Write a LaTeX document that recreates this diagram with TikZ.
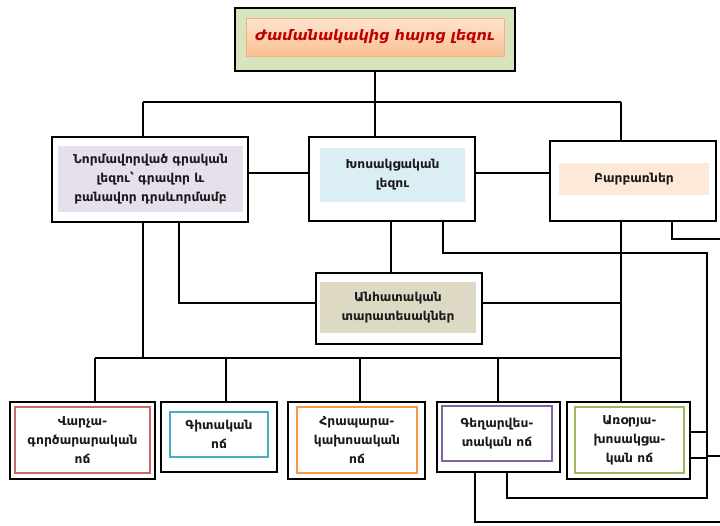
\documentclass[tikz,border=0pt]{standalone}
\usepackage{fontspec}
\setmainfont{DejaVu Sans}
\usetikzlibrary{calc}
\definecolor{topgreen}{HTML}{D7E4BD}
\definecolor{orlight}{HTML}{FDE4D0}
\definecolor{ordark}{HTML}{FAC090}
\definecolor{ordraw}{HTML}{F4B183}
\definecolor{titlered}{HTML}{C00000}
\definecolor{lav}{HTML}{E5E0EC}
\definecolor{lblue}{HTML}{DBEEF4}
\definecolor{peach}{HTML}{FDE9D9}
\definecolor{khaki}{HTML}{DDD9C4}
\definecolor{cred}{HTML}{C0504D}
\definecolor{cblue}{HTML}{4BACC6}
\definecolor{corange}{HTML}{F79646}
\definecolor{cpurple}{HTML}{8064A2}
\definecolor{cgreen}{HTML}{9BBB59}
\definecolor{txt}{HTML}{1A1A1A}
\tikzset{
  outerbox/.style={draw=black, line width=1.6pt, fill=white, inner sep=0pt},
  innerbox/.style={inner sep=0pt, align=center, text=txt, font=\fontsize{12.3}{19}\selectfont\bfseries},
  conn/.style={line width=1.6pt, black},
}
\begin{document}
\begin{tikzpicture}[x=1pt,y=-1pt]
\useasboundingbox (0,0) rectangle (720,525);
\coordinate (jL) at (143,102);
\coordinate (jR) at (621,102);
\coordinate (jM) at (375,102);
\coordinate (bus1) at (95,358);
\coordinate (bus5) at (621,358);
\coordinate (r1) at (707,253);
\coordinate (r2) at (707,498);
\coordinate (e1) at (720,239);
\coordinate (e2) at (720,456);
\coordinate (e3) at (720,522);

% top box
\node[outerbox, fill=topgreen, line width=2.2pt, minimum width=280pt, minimum height=63pt] (top) at (375,39.5) {};
\node[inner sep=0pt, top color=orlight, bottom color=ordark, draw=ordraw, line width=0.8pt,
      minimum width=258pt, minimum height=38pt, text=titlered,
      font=\fontsize{14.5}{17}\selectfont\bfseries\itshape] (title) at (375,37) {Ժամանակակից հայոց լեզու};

% second row
\node[outerbox, minimum width=196pt, minimum height=85pt] (norm) at (150,179.5) {};
\node[innerbox, fill=lav, minimum width=185pt, minimum height=66pt] (normin) at (150.5,179) {Նորմավորված գրական\\լեզու՝ գրավոր և\\բանավոր դրսևորմամբ};

\node[outerbox, minimum width=166pt, minimum height=84pt] (khos) at (392,179) {};
\node[innerbox, fill=lblue, minimum width=145pt, minimum height=54pt] (khosin) at (392.5,175) {Խոսակցական\\լեզու};

\node[outerbox, minimum width=166pt, minimum height=80pt] (barb) at (633,181) {};
\node[innerbox, fill=peach, minimum width=150pt, minimum height=32pt] (barbin) at (634,179) {Բարբառներ};

\node[outerbox, minimum width=166pt, minimum height=71pt] (anh) at (399,308.5) {};
\node[innerbox, fill=khaki, minimum width=156pt, minimum height=51pt] (anhin) at (398,307.5) {Անհատական\\տարատեսակներ};

% bottom row
\node[outerbox, minimum width=145pt, minimum height=77pt] (b1) at (82.5,440.5) {};
\node[innerbox, draw=cred!85, line width=1.4pt, minimum width=135pt, minimum height=66pt] (b1in) at (82.5,440) {Վարչա-\\գործարարական\\ոճ};

\node[outerbox, minimum width=116pt, minimum height=70pt] (b2) at (219,437) {};
\node[innerbox, draw=cblue, line width=1.4pt, minimum width=98pt, minimum height=45pt] (b2in) at (219,434.5) {Գիտական\\ոճ};

\node[outerbox, minimum width=137pt, minimum height=77pt] (b3) at (356.5,440.5) {};
\node[innerbox, draw=corange, line width=1.4pt, minimum width=120pt, minimum height=66pt] (b3in) at (357,440) {Հրապարա-\\կախոսական\\ոճ};

\node[outerbox, minimum width=123pt, minimum height=70pt] (b4) at (498.5,437) {};
\node[innerbox, draw=cpurple, line width=1.4pt, minimum width=110pt, minimum height=55pt] (b4in) at (497,433.5) {Գեղարվես-\\տական ոճ};

\node[outerbox, minimum width=123pt, minimum height=77pt] (b5) at (628.5,440.5) {};
\node[innerbox, draw=cgreen, line width=1.4pt, minimum width=109pt, minimum height=66pt] (b5in) at (629.5,440) {Առօրյա-\\խոսակցա-\\կան ոճ};

% connectors
\begin{scope}[conn]
\draw (top.south) -- (jM);
\draw (jL) -- (jR);
\draw (jL) -- (jL |- norm.north);
\draw (jM) -- (jM |- khos.north);
\draw (jR) -- (jR |- barb.north);
\draw (norm.east |- 0,173) -- (khos.west |- 0,173);
\draw (khos.east |- 0,173) -- (barb.west |- 0,173);
\draw (jL |- norm.south) -- (jL |- bus1);
\draw (179,0 |- norm.south) -- (179,303) -- (anh.west |- 0,303);
\draw (391,0 |- khos.south) -- (391,0 |- anh.north);
\draw (anh.east |- 0,303) -- (jR |- 0,303);
\draw (jR |- barb.south) -- (jR |- b5.north);
\draw (672,0 |- barb.south) -- (672,239) -- (e1);
\draw (443,0 |- khos.south) -- (443,253) -- (r1) -- (r2) -- (507,498) -- (507,0 |- b4.south);
\draw (b5.east |- 0,432) -- (707,432);
\draw (b5.east |- 0,458) -- (707,458);
\draw (707,456) -- (e2);
\draw (475,0 |- b4.south) -- (475,522) -- (e3);
\draw (bus1) -- (bus5);
\draw (bus1) -- (bus1 |- b1.north);
\draw (226,358) -- (226,0 |- b2.north);
\draw (360,358) -- (360,0 |- b3.north);
\draw (498,358) -- (498,0 |- b4.north);
\end{scope}
\end{tikzpicture}
\end{document}
